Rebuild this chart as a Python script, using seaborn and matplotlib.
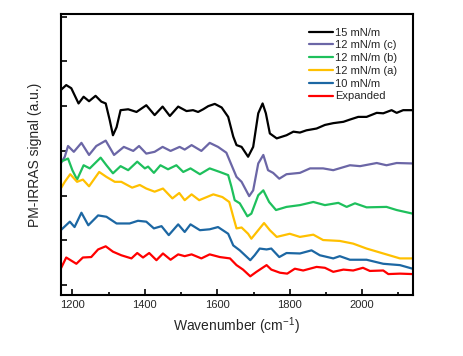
import numpy as np
import pandas as pd
import matplotlib
matplotlib.use("Agg")
import matplotlib.pyplot as plt
import seaborn as sns
from matplotlib.ticker import MultipleLocator

# values (wavenumber, offset signal)
x_15 = [1168, 1183, 1197, 1217, 1231, 1246, 1264, 1280, 1292, 1303, 1312, 1322, 1333, 1354, 1377, 1404, 1427, 1449,
        1469, 1492, 1515, 1533, 1547, 1561, 1575, 1593, 1612, 1630, 1644, 1653, 1667, 1685, 1699, 1713, 1725, 1734,
        1745, 1764, 1791, 1810, 1828, 1846, 1874, 1897, 1920, 1948, 1966, 1989, 2012, 2040, 2058, 2081, 2095, 2113, 2139]
y_15 = [4.36, 4.47, 4.40, 4.06, 4.21, 4.11, 4.23, 4.10, 4.06, 3.69, 3.35, 3.53, 3.91, 3.93, 3.87, 4.02, 3.80, 3.99,
        3.78, 3.99, 3.89, 3.91, 3.87, 3.93, 4.00, 4.05, 3.97, 3.76, 3.32, 3.13, 3.09, 2.87, 3.09, 3.84, 4.06, 3.84,
        3.39, 3.28, 3.35, 3.43, 3.41, 3.46, 3.50, 3.58, 3.62, 3.65, 3.70, 3.76, 3.76, 3.85, 3.84, 3.91, 3.85, 3.91, 3.91]

x_12c = [1168, 1179, 1188, 1204, 1225, 1246, 1266, 1292, 1315, 1342, 1368, 1384, 1404, 1427, 1449, 1471, 1496, 1510,
         1529, 1556, 1579, 1602, 1625, 1641, 1653, 1667, 1688, 1699, 1713, 1727, 1740, 1754, 1771, 1791, 1828, 1856,
         1892, 1920, 1966, 1994, 2040, 2067, 2095, 2139]
y_12c = [2.72, 2.87, 3.11, 2.98, 3.18, 2.91, 3.11, 3.23, 2.91, 3.09, 3.00, 3.11, 2.94, 2.98, 3.09, 3.00, 3.09, 3.03,
         3.13, 3.00, 3.18, 3.09, 2.96, 2.65, 2.42, 2.31, 1.99, 2.12, 2.72, 2.91, 2.57, 2.51, 2.38, 2.48, 2.51, 2.61,
         2.61, 2.57, 2.68, 2.66, 2.73, 2.68, 2.73, 2.72]

x_12b = [1168, 1188, 1200, 1213, 1231, 1248, 1278, 1294, 1312, 1333, 1354, 1379, 1400, 1409, 1425, 1443, 1464, 1487,
         1506, 1526, 1552, 1579, 1607, 1630, 1639, 1648, 1662, 1683, 1694, 1713, 1727, 1743, 1762, 1791, 1828, 1865,
         1897, 1934, 1957, 1980, 2012, 2067, 2095, 2139]
y_12b = [2.76, 2.83, 2.57, 2.36, 2.68, 2.61, 2.85, 2.68, 2.50, 2.66, 2.57, 2.76, 2.61, 2.65, 2.51, 2.68, 2.59, 2.68,
         2.53, 2.61, 2.48, 2.61, 2.53, 2.46, 2.20, 1.90, 1.83, 1.54, 1.60, 2.01, 2.12, 1.86, 1.68, 1.75, 1.79, 1.86,
         1.79, 1.84, 1.75, 1.83, 1.74, 1.75, 1.68, 1.60]

x_12a = [1168, 1179, 1194, 1213, 1229, 1246, 1274, 1294, 1317, 1335, 1365, 1386, 1404, 1427, 1450, 1476, 1495, 1510,
         1529, 1550, 1589, 1614, 1633, 1644, 1653, 1667, 1685, 1694, 1713, 1729, 1745, 1764, 1800, 1828, 1865, 1892,
         1938, 1975, 2012, 2058, 2104, 2139]
y_12a = [2.16, 2.31, 2.48, 2.31, 2.36, 2.21, 2.53, 2.42, 2.31, 2.31, 2.18, 2.24, 2.16, 2.09, 2.16, 1.94, 2.06, 1.90,
         2.03, 1.90, 2.03, 1.97, 1.86, 1.53, 1.27, 1.29, 1.15, 1.04, 1.23, 1.39, 1.23, 1.08, 1.15, 1.08, 1.13, 1.01,
         0.99, 0.93, 0.82, 0.71, 0.60, 0.60]

x_10 = [1168, 1193, 1206, 1225, 1244, 1271, 1294, 1322, 1358, 1381, 1404, 1425, 1446, 1466, 1492, 1510, 1526, 1552,
        1579, 1602, 1630, 1644, 1662, 1691, 1703, 1717, 1736, 1749, 1771, 1791, 1828, 1860, 1883, 1920, 1938, 1966,
        2012, 2058, 2104, 2139]
y_10 = [1.23, 1.42, 1.30, 1.62, 1.34, 1.56, 1.53, 1.38, 1.38, 1.44, 1.42, 1.27, 1.32, 1.12, 1.36, 1.19, 1.36, 1.23,
        1.25, 1.30, 1.15, 0.89, 0.78, 0.56, 0.67, 0.82, 0.80, 0.82, 0.63, 0.72, 0.71, 0.78, 0.67, 0.60, 0.65, 0.57,
        0.57, 0.48, 0.45, 0.37]

x_exp = [1168, 1183, 1211, 1229, 1252, 1271, 1292, 1312, 1335, 1363, 1379, 1395, 1412, 1432, 1450, 1471, 1492, 1510,
         1529, 1556, 1579, 1607, 1635, 1653, 1671, 1691, 1708, 1736, 1749, 1773, 1793, 1814, 1837, 1874, 1897, 1920,
         1948, 1975, 2002, 2021, 2058, 2072, 2104, 2139]
y_exp = [0.37, 0.62, 0.48, 0.62, 0.63, 0.80, 0.87, 0.75, 0.67, 0.60, 0.72, 0.62, 0.72, 0.56, 0.71, 0.57, 0.69, 0.65,
         0.69, 0.60, 0.69, 0.63, 0.60, 0.45, 0.35, 0.20, 0.30, 0.45, 0.35, 0.28, 0.26, 0.37, 0.33, 0.41, 0.39, 0.30,
         0.35, 0.33, 0.39, 0.32, 0.33, 0.25, 0.26, 0.25]

labels = ["15 mN/m", "12 mN/m (c)", "12 mN/m (b)", "12 mN/m (a)", "10 mN/m", "Expanded"]
colors = ["#000000", "#6b66a6", "#1ec05c", "#ffc000", "#1c67a3", "#ff0000"]
series = [(x_15, y_15), (x_12c, y_12c), (x_12b, y_12b), (x_12a, y_12a), (x_10, y_10), (x_exp, y_exp)]

sns.set_theme(style="ticks")
plt.rcParams['font.family'] = ['Liberation Sans', 'DejaVu Sans']

fig = plt.figure(figsize=(4.64, 3.56), dpi=100)
ax = fig.add_axes([0.131, 0.171, 0.759, 0.79])

for (xs, ys), lab, c in zip(series, labels, colors):
    sns.lineplot(x=xs, y=ys, ax=ax, color=c, label=lab, linewidth=1.6, sort=False)

ax.set_xlim(1168, 2140)
ax.set_ylim(-0.22, 6.06)
ax.xaxis.set_major_locator(MultipleLocator(200))
ax.xaxis.set_minor_locator(MultipleLocator(100))
ax.yaxis.set_major_locator(MultipleLocator(1))
ax.set_yticklabels([])
ax.tick_params(which='both', direction='in', labelsize=8, width=1.2, color='black')
ax.tick_params(which='major', length=4)
ax.tick_params(which='minor', length=2)
for s in ax.spines.values():
    s.set_linewidth(1.5)
    s.set_color('black')

ax.set_xlabel("Wavenumber (cm$^{\\mathregular{-1}}$)", fontsize=10, labelpad=4)
ax.set_ylabel("PM-IRRAS signal (a.u.)", fontsize=10, labelpad=10)

ax.legend(loc='upper right', frameon=False, fontsize=8, handlelength=2.1, handletextpad=0.2,
          labelspacing=0.25, borderaxespad=0.3, bbox_to_anchor=(0.977, 0.979))

fig.savefig("out.png", dpi=100)
